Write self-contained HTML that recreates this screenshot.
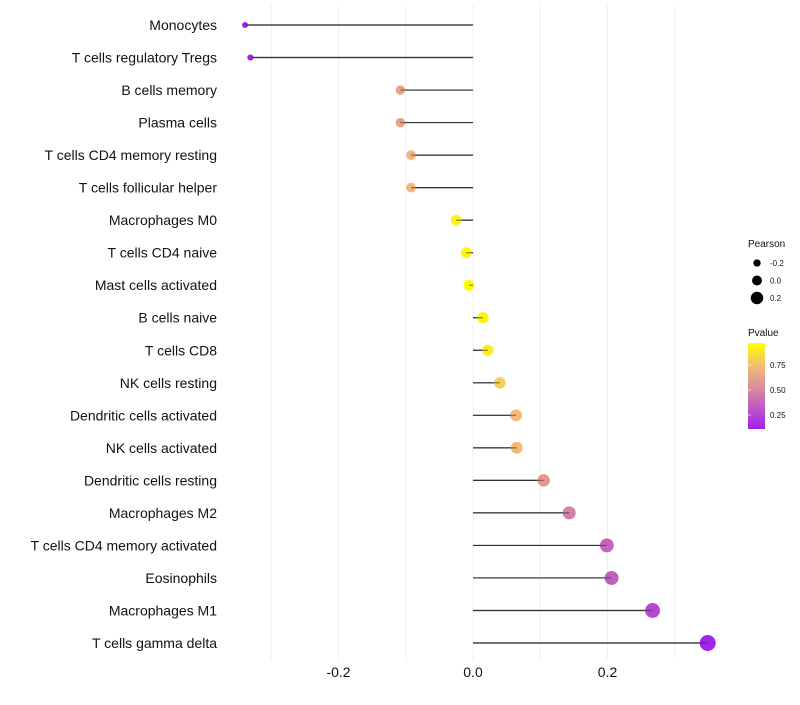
<!DOCTYPE html>
<html><head><meta charset="utf-8"><style>
body{margin:0;background:#fff;font-family:"Liberation Sans",sans-serif}
</style></head><body>
<svg id="chart" width="800" height="700" xmlns="http://www.w3.org/2000/svg" font-family="Liberation Sans, sans-serif"></svg>
<script>
const categories=["Monocytes","T cells regulatory  Tregs","B cells memory","Plasma cells","T cells CD4 memory resting","T cells follicular helper","Macrophages M0","T cells CD4 naive","Mast cells activated","B cells naive","T cells CD8","NK cells resting","Dendritic cells activated","NK cells activated","Dendritic cells resting","Macrophages M2","T cells CD4 memory activated","Eosinophils","Macrophages M1","T cells gamma delta"];
const pearson=[-0.339,-0.331,-0.108,-0.108,-0.092,-0.092,-0.025,-0.010,-0.006,0.015,0.022,0.040,0.064,0.065,0.105,0.143,0.199,0.206,0.267,0.349];
const pvalue=[0.12,0.13,0.62,0.62,0.72,0.72,0.95,0.97,0.98,0.95,0.93,0.82,0.74,0.74,0.58,0.47,0.36,0.34,0.25,0.12];
const xTicks=[-0.2,0,0.2];
const xTickLabels=["-0.2","0.0","0.2"];
const gridVals=[-0.3,-0.2,-0.1,0,0.1,0.2,0.3];
const sizeLegend=[-0.2,0,0.2];
const colorLegendTicks=[0.25,0.5,0.75];

const svg=document.getElementById('chart');
const NS="http://www.w3.org/2000/svg";
function mk(t,a,p){const e=document.createElementNS(NS,t);for(const k in a)e.setAttribute(k,a[k]);(p||svg).appendChild(e);return e;}
const x=v=>473+v*(134.5/0.2);
const y=i=>25+i*(618/19);
const rad=v=>Math.max(1.8,5.5+7.2*v);
const stops=[[0.1,[160,32,240]],[0.5,[215,135,160]],[0.62,[232,162,135]],[0.75,[242,188,118]],[1,[255,255,0]]];
function col(p){if(p<=stops[0][0])return 'rgb('+stops[0][1]+')';for(let i=1;i<stops.length;i++){if(p<=stops[i][0]){const [a,ca]=stops[i-1],[b,cb]=stops[i];const t=(p-a)/(b-a);return 'rgb('+ca.map((c,j)=>Math.round(c+(cb[j]-c)*t)).join(',')+')';}}return 'rgb(255,255,0)';}

gridVals.forEach(v=>{const g=mk('line',{x1:x(v),x2:x(v),y1:5,y2:660,stroke:'#f0f0f0','stroke-width':1});
});
xTicks.forEach((v,i)=>{const t=mk('text',{x:x(v),y:677,'text-anchor':'middle','font-size':14,fill:'#111'});t.textContent=xTickLabels[i];
});
categories.forEach((c,i)=>{
 const t=mk('text',{x:217,y:y(i)+5,'text-anchor':'end','font-size':14,fill:'#111'});t.textContent=c;
 
 const l=mk('line',{x1:x(0),x2:x(pearson[i]),y1:y(i),y2:y(i),stroke:'#333','stroke-width':1.2});
 
 const d=mk('circle',{cx:x(pearson[i]),cy:y(i),r:rad(pearson[i]),fill:col(pvalue[i])});
 
 const l2=mk('line',{x1:x(0),x2:x(pearson[i]),y1:y(i),y2:y(i),stroke:'#333','stroke-width':1.2,'stroke-opacity':0.6});
 
});
const pt=mk('text',{x:748,y:247,'font-size':10,fill:'#111'});pt.textContent='Pearson';

sizeLegend.forEach((v,i)=>{const cy=263+i*17.5;
 const c=mk('circle',{cx:757,cy:cy,r:rad(v)*0.9,fill:'#000'});
 
 const t=mk('text',{x:770,y:cy+3,'font-size':8,fill:'#111'});t.textContent=v===0?'0.0':String(v);
 });
const ct=mk('text',{x:748,y:336,'font-size':10,fill:'#111'});ct.textContent='Pvalue';

const defs=mk('defs',{});const lg=mk('linearGradient',{id:'pg',x1:0,y1:1,x2:0,y2:0},defs);
[[0,'#a020f0'],[0.45,'#d787a0'],[0.72,'#f0b978'],[1,'#ffff00']].forEach(s=>mk('stop',{offset:s[0],'stop-color':s[1]},lg));
const bar=mk('rect',{x:748,y:343,width:17,height:86,fill:'url(#pg)'});

const py=p=>340+(1-p)*100;
colorLegendTicks.forEach(p=>{
 const t=mk('text',{x:770,y:py(p)+3,'font-size':8,fill:'#111'});t.textContent=p.toFixed(2);
 
 const tk=mk('line',{x1:748,x2:751,y1:py(p),y2:py(p),stroke:'#fff','stroke-width':0.6});
 });
</script>
</body></html>
